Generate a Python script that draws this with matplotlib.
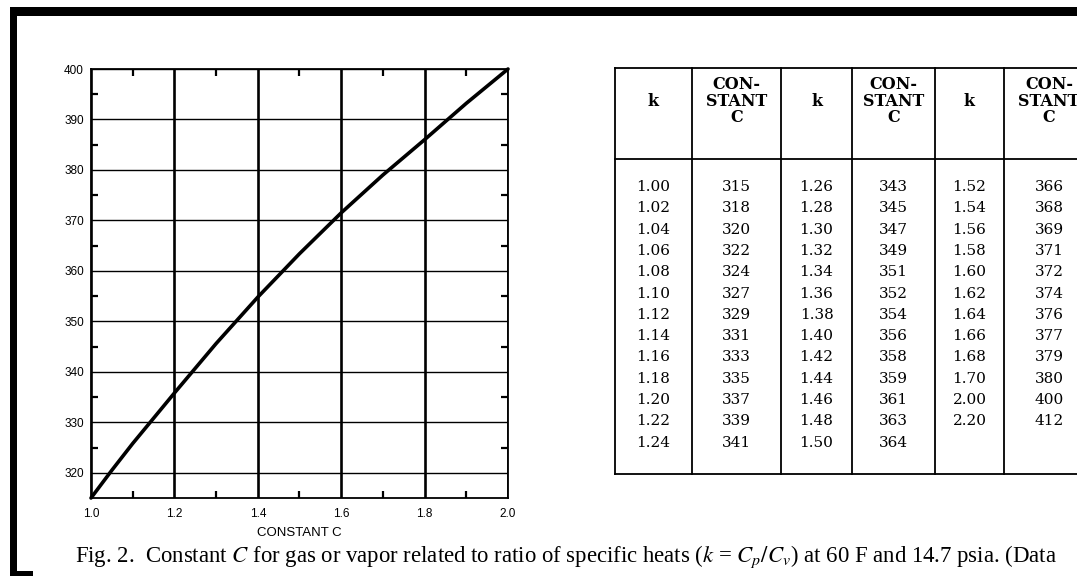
import matplotlib
matplotlib.use("Agg")
import matplotlib.pyplot as plt
import matplotlib.patches as mpatches

W, H = 1077, 578
SANS = "Liberation Sans"
SERIF = "DejaVu Serif"
CAP_SERIF = "Liberation Serif"
plt.rcParams['mathtext.fontset'] = 'stix'

# curve (k on x, constant C on y)
curve_k = [1.00, 1.05, 1.10, 1.20, 1.30, 1.40, 1.50, 1.60, 1.70, 1.80, 1.90, 2.00]
curve_c = [315, 320.5, 325.8, 335.8, 345.6, 354.8, 363.4, 371.5, 379.0, 386.0, 393.2, 400]

# table data: three (k, constant C) column pairs
k_col1 = [1.00, 1.02, 1.04, 1.06, 1.08, 1.10, 1.12, 1.14, 1.16, 1.18, 1.20, 1.22, 1.24]
c_col1 = [315, 318, 320, 322, 324, 327, 329, 331, 333, 335, 337, 339, 341]
k_col2 = [1.26, 1.28, 1.30, 1.32, 1.34, 1.36, 1.38, 1.40, 1.42, 1.44, 1.46, 1.48, 1.50]
c_col2 = [343, 345, 347, 349, 351, 352, 354, 356, 358, 359, 361, 363, 364]
k_col3 = [1.52, 1.54, 1.56, 1.58, 1.60, 1.62, 1.64, 1.66, 1.68, 1.70, 2.00, 2.20]
c_col3 = [366, 368, 369, 371, 372, 374, 376, 377, 379, 380, 400, 412]

x_ticks = [1.0, 1.2, 1.4, 1.6, 1.8, 2.0]
x_labels = ['1.0', '1.2', '1.4', '1.6', '1.8', '2.0']
y_ticks = [320, 330, 340, 350, 360, 370, 380, 390, 400]
caption = (r"Fig. 2.  Constant $C$ for gas or vapor related to ratio of specific heats "
           r"($k$ = $C_p/C_v$) at 60 F and 14.7 psia. (Data")

fig = plt.figure(figsize=(W / 100, H / 100), dpi=100)
fig.patch.set_facecolor('white')

# overlay in pixel coords for frame, table and caption
ov = fig.add_axes([0, 0, 1, 1])
ov.set_xlim(0, W)
ov.set_ylim(H, 0)
ov.axis('off')

# heavy page border (top bar, left bar, little foot)
for (x0, y0, w, h) in [(10, 7, W, 9), (10, 7, 7, 568), (10, 571, 23, 5)]:
    ov.add_patch(mpatches.Rectangle((x0, y0), w, h, facecolor='black', edgecolor='none'))

# ---- plot ----
ax = fig.add_axes([91 / W, 1 - 498 / H, 417 / W, 429 / H])
ax.plot(curve_k, curve_c, color='black', linewidth=2.6, solid_capstyle='round',
        solid_joinstyle='round', zorder=3, clip_on=False)

ax.set_xlim(1.0, 2.0)
ax.set_ylim(315, 400)
ax.set_xticks(x_ticks, x_labels)
ax.set_yticks(y_ticks, [str(v) for v in y_ticks])
ax.set_xticks([1.1, 1.3, 1.5, 1.7, 1.9], minor=True)
ax.set_yticks([325, 335, 345, 355, 365, 375, 385, 395], minor=True)
ax.grid(True, axis='x', which='major', color='black', linewidth=1.9)
ax.grid(True, axis='y', which='major', color='black', linewidth=1.0)
ax.tick_params(which='major', length=0, labelsize=8.5, pad=5)
ax.tick_params(axis='x', which='major', pad=7)
ax.tick_params(which='minor', direction='in', length=5, width=1.6,
               top=True, right=True, bottom=True, left=True)
for lab in ax.get_xticklabels() + ax.get_yticklabels():
    lab.set_family(SANS)
for s in ax.spines.values():
    s.set_linewidth(1.3)
ax.set_xlabel('CONSTANT C', fontsize=9.5, family=SANS, labelpad=5)

# ---- table ----
tab_left, tab_right, tab_top, tab_head, tab_bottom = 615, 1100, 68, 159, 474
col_edges = [615, 692, 781, 852, 935, 1004, 1094]
row0, row_step = 187, 21.3
lw = 1.3
ov.plot([tab_left, tab_right], [tab_top, tab_top], color='black', lw=lw)
ov.plot([tab_left, tab_right], [tab_head, tab_head], color='black', lw=lw)
ov.plot([tab_left, tab_right], [tab_bottom, tab_bottom], color='black', lw=lw)
for xe in col_edges[:-1]:
    ov.plot([xe, xe], [tab_top, tab_bottom], color='black', lw=lw)

centers = [(a + b) / 2 for a, b in zip(col_edges[:-1], col_edges[1:])]
head_mid = 101
for j, xc in enumerate(centers):
    if j % 2 == 0:
        ov.text(xc, head_mid, 'k', ha='center', va='center', family=SERIF,
                fontweight='bold', fontsize=11.5)
    else:
        ov.text(xc, head_mid, 'CON-\nSTANT\nC', ha='center', va='center', family=SERIF,
                fontweight='bold', fontsize=11.5, linespacing=0.98)

pairs = [(k_col1, c_col1), (k_col2, c_col2), (k_col3, c_col3)]
for p, (ks, cs) in enumerate(pairs):
    for i, (k, c) in enumerate(zip(ks, cs)):
        y = row0 + i * row_step
        ov.text(centers[2 * p], y, f"{k:.2f}", ha='center', va='center',
                family=SERIF, fontsize=11)
        ov.text(centers[2 * p + 1], y, f"{c}", ha='center', va='center',
                family=SERIF, fontsize=11)

# ---- caption ----
ov.text(75, 557, caption, ha='left', va='center', family=CAP_SERIF, fontsize=16.4)

fig.savefig('out.png', dpi=100, facecolor='white')
